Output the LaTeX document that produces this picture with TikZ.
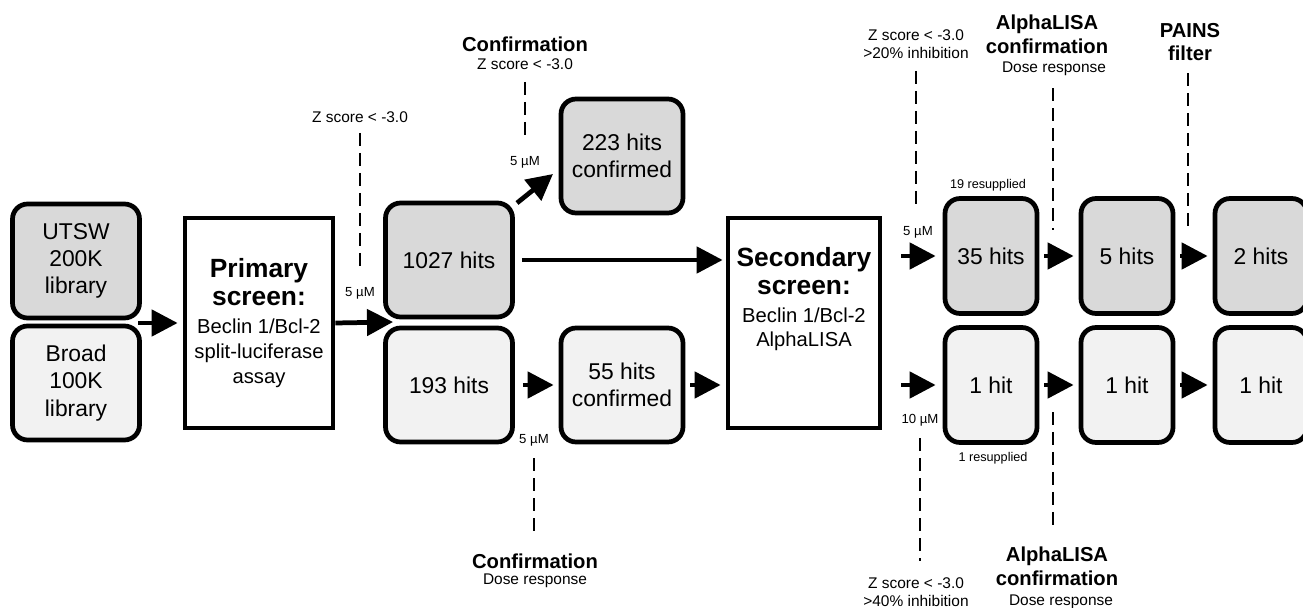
\documentclass[tikz,border=0pt]{standalone}
\usepackage{fontspec}
\setmainfont{Liberation Sans}
\usetikzlibrary{arrows.meta}
\definecolor{hitdark}{HTML}{D9D9D9}
\definecolor{hitlight}{HTML}{F2F2F2}
\newcommand{\screentitle}[1]{{\bfseries\fontsize{15}{17}\selectfont #1}}
\begin{document}
\begin{tikzpicture}[x=0.02cm,y=-0.02cm,
  hitbox/.style={draw, line width=2.7pt, rounded corners=0.3cm, align=center, inner sep=0pt,
    minimum width=2.54cm, minimum height=2.28cm, font=\fontsize{13}{15.5}\selectfont},
  narrow/.style={minimum width=1.84cm, minimum height=2.3cm},
  screenbox/.style={draw, line width=2.7pt, fill=white, align=center, inner sep=0pt,
    minimum height=4.2cm, font=\fontsize{11.5}{14}\selectfont},
  flow/.style={line width=2.7pt, -{Triangle[length=0.52cm,width=0.52cm]},
    shorten <=0.1cm, shorten >=0.1cm},
  guide/.style={line width=1pt, dash pattern=on 0.26cm off 0.14cm,
    shorten <=0.24cm, shorten >=0.32cm},
  stage/.style={font=\bfseries\fontsize{11.5}{13.6}\selectfont, align=center, inner sep=0pt},
  note/.style={font=\fontsize{8.8}{10.2}\selectfont, align=center, inner sep=0pt},
  conc/.style={font=\fontsize{7.5}{9}\selectfont, inner sep=0pt},
  tiny/.style={font=\fontsize{7.2}{9}\selectfont, inner sep=0pt}]
\useasboundingbox (0,0) rectangle (1303,608);

% libraries
\node[hitbox, fill=hitdark] (utsw) at (76,261) {UTSW\\200K\\library};
\node[hitbox, fill=hitlight] (broad) at (76,383) {Broad\\100K\\library};
\coordinate (libs) at (138,323);

% primary screen
\node[screenbox, minimum width=2.96cm] (primary) at (259,323)
  {\screentitle{Primary}\\[2pt]\screentitle{screen:}\\[2pt]Beclin 1/Bcl-2\\split-luciferase\\assay};
\coordinate (split) at (393,322);

\node[hitbox, fill=hitdark] (h1027) at (449,260) {1027 hits};
\node[hitbox, fill=hitlight] (h193) at (449,385) {193 hits};
\node[hitbox, fill=hitdark, minimum width=2.44cm] (h223) at (622,156) {223 hits\\confirmed};
\node[hitbox, fill=hitlight, minimum width=2.44cm] (h55) at (622,385) {55 hits\\confirmed};
\coordinate (d1) at (517,203);
\coordinate (d2) at (553,174);

% secondary screen
\node[screenbox, minimum width=3.04cm] (secondary) at (804,323) {};
\node[screenbox, draw=none, fill=none, minimum height=0pt] (sectext) at (804,299)
  {\screentitle{Secondary}\\[2pt]\screentitle{screen:}\\[2pt]Beclin 1/Bcl-2\\AlphaLISA};

\node[hitbox, narrow, fill=hitdark] (h35) at (991,256) {35 hits};
\node[hitbox, narrow, fill=hitdark] (h5) at (1127,256) {5 hits};
\node[hitbox, narrow, fill=hitdark] (h2) at (1261,256) {2 hits};
\node[hitbox, narrow, fill=hitlight] (h1a) at (991,385) {1 hit};
\node[hitbox, narrow, fill=hitlight] (h1b) at (1127,385) {1 hit};
\node[hitbox, narrow, fill=hitlight] (h1c) at (1261,385) {1 hit};

% annotations
\node[note] (zs1) at (360,117) {Z score < -3.0};
\node[conc] (um1) at (360,293) {5 µM};
\node[stage] (conf1) at (525,44) {Confirmation};
\node[note] (conf1sub) at (525,64) {Z score < -3.0};
\node[conc] (um2) at (525,162) {5 µM};
\node[conc] (um3) at (534,440) {5 µM};
\node[stage] (conf2) at (535,561) {Confirmation};
\node[note] (conf2sub) at (535,581) {Dose response};
\node[note] (zs3) at (916,44) {Z score < -3.0\\>20\% inhibition};
\node[conc] (um4) at (918,232) {5 µM};
\node[tiny] (res1) at (988,185) {19 resupplied};
\node[stage] (alpha1) at (1047,34) {AlphaLISA\\confirmation};
\node[note] (alpha1sub) at (1054,69) {Dose response};
\node[stage] (pains) at (1190,42) {PAINS\\filter};
\coordinate (a1end) at (1053,230);
\coordinate (p1end) at (1188,230);
\node[conc] (um5) at (920,420) {10 µM};
\node[note] (zs4) at (916,592) {Z score < -3.0\\>40\% inhibition};
\node[tiny] (res2) at (993,458) {1 resupplied};
\coordinate (a2start) at (1053,412);
\node[stage] (alpha2) at (1057,566) {AlphaLISA\\confirmation};
\node[note] (alpha2sub) at (1061,602) {Dose response};

% arrows
\draw[flow, shorten <=0pt] (libs) -- (primary.west);
\draw[flow, shorten <=0pt, shorten >=0pt] (primary.east) -- (split);
\draw[flow, shorten <=0pt, shorten >=0pt] (d1) -- (d2);
\draw[flow, shorten <=0.14cm, shorten >=0.06cm] (h1027.east) -- (secondary.west |- h1027.east);
\draw[flow, shorten <=0.16cm] (h193) -- (h55);
\draw[flow] (h55) -- (secondary.west |- h55);
\draw[flow, shorten <=0.38cm, shorten >=0.14cm] (secondary.east |- h35) -- (h35);
\draw[flow] (h35) -- (h5);
\draw[flow] (h5) -- (h2);
\draw[flow, shorten <=0.38cm, shorten >=0.14cm] (secondary.east |- h1a) -- (h1a);
\draw[flow] (h1a) -- (h1b);
\draw[flow] (h1b) -- (h1c);

% dashed guides
\draw[guide, shorten <=0.2cm, shorten >=0.3cm] (zs1.south) -- (zs1.south |- um1.north);
\draw[guide] (conf1sub.south) -- (conf1sub.south |- um2.north);
\draw[guide] (um3.south) -- (um3.south |- conf2.north);
\draw[guide] (zs3.south) -- (zs3.south |- um4.north);
\draw[guide, shorten >=0pt] (alpha1sub.south -| a1end) -- (a1end);
\draw[guide, shorten >=0pt] (pains.south -| p1end) -- (p1end);
\draw[guide] (um5.south) -- (um5.south |- zs4.north);
\draw[guide, shorten <=0pt] (a2start) -- (a2start |- alpha2.north);
\end{tikzpicture}
\end{document}
